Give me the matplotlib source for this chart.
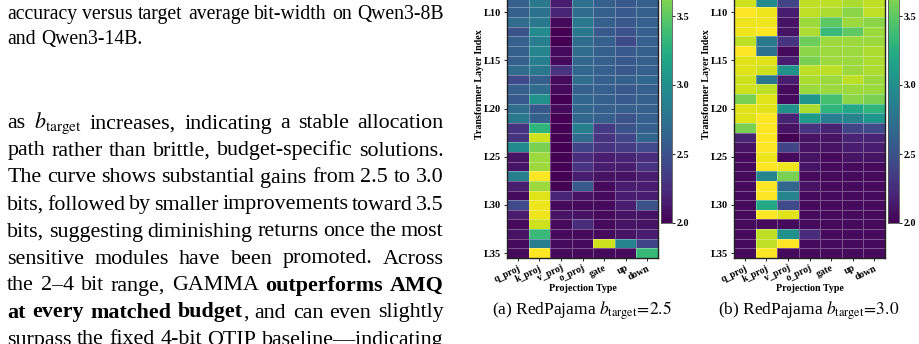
import numpy as np
import matplotlib
matplotlib.use("Agg")
import matplotlib.pyplot as plt
from matplotlib.transforms import IdentityTransform

plt.rcParams['mathtext.fontset'] = 'stix'

# projection types and layer labels (rows above L9 are cropped off the page)
proj_types = ['q_proj', 'k_proj', 'v_proj', 'o_proj', 'gate', 'up', 'down']
layer_ticks = [10, 15, 20, 25, 30, 35]
layer_labels = ['L10', 'L15', 'L20', 'L25', 'L30', 'L35']

# bit-width per layer (rows L0..L35) for b_target = 2.5
bits_25 = [
    [2.60, 2.80, 2.20, 2.70, 2.60, 2.55, 2.60],
    [2.65, 2.75, 2.15, 2.70, 2.60, 2.55, 2.60],
    [2.60, 2.85, 2.20, 2.75, 2.60, 2.55, 2.60],
    [2.60, 2.80, 2.10, 2.70, 2.55, 2.55, 2.60],
    [2.70, 2.75, 2.20, 2.70, 2.60, 2.55, 2.60],
    [2.60, 2.80, 2.15, 2.70, 2.60, 2.50, 2.60],
    [2.55, 2.80, 2.20, 2.75, 2.60, 2.55, 2.60],
    [2.60, 2.75, 2.20, 2.70, 2.60, 2.55, 2.60],
    [2.60, 2.80, 2.15, 2.70, 2.60, 2.55, 2.60],
    [2.60, 2.80, 2.15, 2.75, 2.60, 2.55, 2.60],   # L9
    [2.60, 2.75, 2.20, 2.70, 2.60, 2.55, 2.60],   # L10
    [2.70, 2.80, 2.05, 2.80, 2.60, 2.55, 2.60],
    [2.50, 2.95, 2.00, 2.80, 2.55, 2.50, 2.60],
    [2.60, 2.85, 2.00, 2.70, 2.60, 2.45, 2.60],
    [2.60, 2.90, 2.05, 2.70, 2.60, 2.55, 2.60],
    [2.60, 2.85, 2.05, 2.65, 2.60, 2.55, 2.60],   # L15
    [2.70, 2.80, 2.30, 2.65, 2.60, 2.55, 2.60],
    [2.45, 2.60, 2.05, 2.70, 2.60, 2.60, 2.65],
    [2.60, 2.70, 2.05, 2.60, 2.60, 2.55, 2.60],
    [2.55, 3.00, 2.00, 2.65, 2.60, 2.55, 2.60],
    [2.70, 2.55, 2.05, 2.65, 2.60, 2.60, 2.60],   # L20
    [2.80, 2.60, 2.00, 2.65, 2.60, 2.50, 2.60],
    [2.30, 3.30, 2.00, 2.85, 2.35, 2.50, 2.60],
    [2.30, 3.85, 2.00, 2.70, 2.30, 2.40, 2.65],
    [2.95, 3.60, 2.00, 2.40, 2.30, 2.35, 2.45],
    [2.10, 3.70, 2.00, 2.25, 2.15, 2.20, 2.25],   # L25
    [2.10, 3.70, 2.00, 2.30, 2.15, 2.15, 2.30],
    [2.85, 4.00, 2.00, 2.15, 2.10, 2.10, 2.15],
    [2.15, 3.70, 2.00, 2.55, 2.05, 2.15, 2.15],
    [2.05, 3.90, 2.20, 2.10, 2.05, 2.15, 2.15],
    [2.45, 3.95, 2.05, 2.05, 2.05, 2.15, 2.50],   # L30
    [2.15, 3.95, 2.10, 2.10, 2.05, 2.10, 2.10],
    [2.05, 3.85, 2.05, 2.25, 2.05, 2.10, 2.10],
    [2.10, 3.35, 2.05, 2.05, 2.05, 2.10, 2.15],
    [2.05, 2.85, 2.05, 2.05, 3.85, 2.90, 2.40],
    [2.05, 4.00, 2.05, 2.05, 2.05, 2.05, 3.35],   # L35
]

# bit-width per layer (rows L0..L35) for b_target = 3.0
bits_30 = [
    [3.85, 3.00, 2.40, 3.80, 3.80, 3.75, 3.80],
    [3.90, 3.90, 2.30, 3.80, 3.75, 3.75, 3.80],
    [3.95, 3.20, 2.20, 3.75, 3.80, 3.70, 3.75],
    [3.85, 3.85, 2.40, 3.80, 3.75, 3.75, 3.80],
    [3.90, 3.00, 2.20, 3.80, 3.80, 3.70, 3.80],
    [3.95, 3.90, 2.30, 3.75, 3.75, 3.75, 3.75],
    [3.85, 3.80, 2.20, 3.80, 3.80, 3.70, 3.80],
    [3.90, 3.10, 2.40, 3.80, 3.75, 3.75, 3.80],
    [3.90, 3.85, 2.20, 3.75, 3.80, 3.75, 3.80],
    [3.85, 2.95, 2.40, 3.80, 3.80, 3.75, 3.80],   # L9
    [4.00, 3.95, 2.15, 3.80, 3.75, 3.65, 3.80],   # L10
    [3.95, 3.95, 2.10, 3.70, 3.50, 3.70, 3.65],
    [3.95, 4.00, 2.10, 3.75, 3.35, 3.50, 3.70],
    [3.80, 2.80, 2.30, 3.55, 3.70, 3.70, 3.70],
    [4.00, 2.75, 2.05, 3.65, 3.70, 3.70, 3.75],
    [3.90, 3.90, 2.15, 3.60, 3.70, 3.70, 3.75],   # L15
    [3.90, 3.85, 3.00, 3.80, 3.80, 3.70, 3.75],
    [3.85, 2.80, 2.15, 3.75, 3.70, 3.80, 3.70],
    [3.85, 3.80, 2.05, 3.70, 3.70, 3.70, 3.70],
    [3.60, 3.90, 2.05, 3.05, 3.40, 3.65, 3.60],
    [3.90, 3.90, 3.00, 3.75, 3.30, 3.20, 3.30],   # L20
    [3.90, 4.00, 2.20, 3.10, 2.85, 2.90, 3.05],
    [3.60, 4.00, 2.10, 2.30, 2.20, 2.40, 2.45],
    [2.20, 4.00, 2.00, 2.10, 2.10, 2.20, 2.20],
    [2.10, 4.00, 2.40, 2.10, 2.10, 2.15, 2.15],
    [2.05, 3.95, 2.05, 2.10, 2.05, 2.10, 2.10],   # L25
    [2.05, 4.00, 3.95, 2.10, 2.05, 2.05, 2.05],
    [2.05, 2.90, 3.60, 2.05, 2.05, 2.05, 2.05],
    [2.05, 4.00, 2.65, 2.10, 2.05, 2.05, 2.05],
    [2.05, 4.00, 2.90, 2.05, 2.05, 2.05, 2.05],
    [2.05, 3.20, 2.45, 2.05, 2.05, 2.05, 2.05],   # L30
    [2.05, 4.00, 3.90, 2.05, 2.05, 2.05, 2.05],
    [2.05, 2.05, 2.05, 2.05, 2.05, 2.05, 2.05],
    [2.05, 3.80, 3.00, 2.25, 2.05, 2.05, 2.05],
    [2.05, 3.80, 4.00, 2.05, 2.05, 2.05, 2.05],
    [2.05, 4.00, 2.05, 2.05, 2.05, 2.05, 2.05],   # L35
]

cbar_ticks = [2.0, 2.5, 3.0, 3.5]
subcaptions = [r'(a) RedPajama $b_{\mathrm{target}}\!=\!2.5$',
               r'(b) RedPajama $b_{\mathrm{target}}\!=\!3.0$']

# text column beside the figure: (words, font size, baseline y in px, justified)
caption_lines = [
    ("accuracy versus target average bit-width on Qwen3-8B", 14.2, 19, True),
    ("and Qwen3-14B.", 14.2, 44, False),
]
body_lines = [
    (r"as $b_{\mathrm{target}}$ increases, indicating a stable allocation", 128.5),
    ("path rather than brittle, budget-specific solutions.", 155.5),
    ("The curve shows substantial gains from 2.5 to 3.0", 182.5),
    ("bits, followed by smaller improvements toward 3.5", 209.5),
    ("bits, suggesting diminishing returns once the most", 236.5),
    ("sensitive modules have been promoted.  Across", 263.5),
    ("the 2\u20134 bit range, GAMMA **outperforms** **AMQ**", 290.5),
    ("**at** **every** **matched** **budget**, and can even slightly", 317.5),
    ("surpass the fixed 4-bit QTIP baseline\u2014indicating", 344.5),
]

W, H = 919, 344
fig = plt.figure(figsize=(W / 100, H / 100), dpi=100)
serif = 'Liberation Serif'

# ---- heatmaps ----
panels = [(bits_25, 507, 661), (bits_30, 734, 888)]
for (bits, x0, cx0), sub in zip(panels, subcaptions):
    data = np.array(bits)
    ax = fig.add_axes([x0 / W, 1 - 258 / H, 151 / W, 347 / H])
    mesh = ax.pcolormesh(data, cmap='viridis', vmin=2.0, vmax=4.0,
                         edgecolors=(1, 1, 1, 0.3), linewidth=0.6)
    ax.set_xlim(0, data.shape[1])
    ax.set_ylim(data.shape[0], 0)
    ax.set_xticks(np.arange(len(proj_types)) + 0.5)
    ax.set_xticklabels(proj_types, rotation=25, ha='right', rotation_mode='anchor',
                       family=serif, weight='bold', fontsize=7)
    ax.set_yticks(np.array(layer_ticks) + 0.5)
    ax.set_yticklabels(layer_labels, family=serif, weight='bold', fontsize=7.5)
    ax.tick_params(length=2.5, width=0.6, pad=1.5)
    ax.set_xlabel('Projection Type', family=serif, weight='bold', fontsize=7.2)
    ax.xaxis.set_label_coords(0.5, -0.074)
    ax.set_ylabel('Transformer Layer Index', family=serif, weight='bold', fontsize=7.2)
    ax.yaxis.set_label_coords(-0.15, 0.5)
    for s in ax.spines.values():
        s.set_color('#222222')
        s.set_linewidth(1.0)

    cax = fig.add_axes([cx0 / W, 1 - 223 / H, 10.5 / W, 276 / H])
    cb = fig.colorbar(mesh, cax=cax, ticks=cbar_ticks)
    cb.ax.set_yticklabels([f'{t:.1f}' for t in cbar_ticks], family=serif,
                          weight='bold', fontsize=7.2)
    cb.ax.tick_params(length=2.5, width=0.6, pad=1.5)
    cb.outline.set_edgecolor('#555555')
    cb.outline.set_linewidth(0.6)

    fig.text((x0 + 75) / W, 1 - 315 / H, sub, family=serif, fontsize=12.5,
             ha='center', va='baseline')

# ---- justified text column ----
renderer = fig.canvas.get_renderer()
left, right = 7.3, 443.5


def text_width(s, size):
    t = fig.text(0, 0, s, family=serif, fontsize=size)
    w = t.get_window_extent(renderer).width
    t.remove()
    return w


def draw_line(text, size, y, justify):
    words = [w for w in text.split(' ') if w]
    pieces = []
    for w in words:
        segs = w.split('**')
        objs = []
        for i, s in enumerate(segs):
            if not s:
                continue
            t = fig.text(0, H - y, s, transform=IdentityTransform(), family=serif,
                         fontsize=size, weight='bold' if i % 2 else 'normal',
                         va='baseline', ha='left')
            objs.append(t)
        widths = [o.get_window_extent(renderer).width for o in objs]
        pieces.append((objs, widths))
    total = sum(sum(ws) for _, ws in pieces)
    sw = text_width('a a', size) - 2 * text_width('a', size)
    if justify and len(pieces) > 1:
        gap = (right - left - total) / (len(pieces) - 1)
    else:
        gap = sw
    x = left
    for objs, ws in pieces:
        for o, wd in zip(objs, ws):
            o.set_position((x, H - y))
            x += wd
        x += gap


for text, size, y, just in caption_lines:
    draw_line(text, size, y, just)
for text, y in body_lines:
    draw_line(text, 15.8, y, True)

fig.savefig('out.png', dpi=100)
